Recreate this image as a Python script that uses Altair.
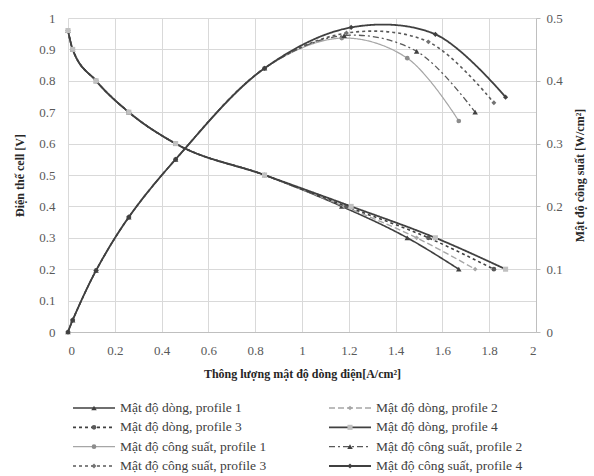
import altair as alt
import pandas as pd

# ---------------- data ----------------
I_p1 = [0, 0.02, 0.12, 0.26, 0.46, 0.84, 1.17, 1.45, 1.67]
I_p2 = [0, 0.02, 0.12, 0.26, 0.46, 0.84, 1.18, 1.49, 1.74]
I_p3 = [0, 0.02, 0.12, 0.26, 0.46, 0.84, 1.19, 1.54, 1.82]
I_p4 = [0, 0.02, 0.12, 0.26, 0.46, 0.84, 1.21, 1.57, 1.87]

V_p1 = [0.96, 0.90, 0.80, 0.70, 0.60, 0.50, 0.40, 0.30, 0.20]
V_p2 = [0.96, 0.90, 0.80, 0.70, 0.60, 0.50, 0.40, 0.30, 0.20]
V_p3 = [0.96, 0.90, 0.80, 0.70, 0.60, 0.50, 0.40, 0.30, 0.20]
V_p4 = [0.96, 0.90, 0.80, 0.70, 0.60, 0.50, 0.40, 0.30, 0.20]

P_p1 = [0, 0.019, 0.098, 0.183, 0.275, 0.42, 0.468, 0.436, 0.336]
P_p2 = [0, 0.019, 0.098, 0.183, 0.275, 0.42, 0.472, 0.447, 0.350]
P_p3 = [0, 0.019, 0.098, 0.183, 0.275, 0.42, 0.476, 0.462, 0.365]
P_p4 = [0, 0.019, 0.098, 0.183, 0.275, 0.42, 0.485, 0.474, 0.374]

x_ticks = [0, 0.2, 0.4, 0.6, 0.8, 1, 1.2, 1.4, 1.6, 1.8, 2]
yl_ticks = [0, 0.1, 0.2, 0.3, 0.4, 0.5, 0.6, 0.7, 0.8, 0.9, 1]
yr_ticks = [0, 0.1, 0.2, 0.3, 0.4, 0.5]

legend_labels = [
    "Mật độ dòng, profile 1", "Mật độ dòng, profile 2",
    "Mật độ dòng, profile 3", "Mật độ dòng, profile 4",
    "Mật độ công suất, profile 1", "Mật độ công suất, profile 2",
    "Mật độ công suất, profile 3", "Mật độ công suất, profile 4",
]
legend_row = [0, 0, 1, 1, 2, 2, 3, 3]
legend_col = [0, 1, 0, 1, 0, 1, 0, 1]

# ---------------- styles ----------------
FONT = "Liberation Serif"
styles = [
    dict(color="#404040", dash=[1, 0], width=1.6, shape="triangle-up", mcolor="#404040", msize=30),
    dict(color="#a6a6a6", dash=[6, 3], width=1.4, shape="diamond", mcolor="#a6a6a6", msize=22),
    dict(color="#404040", dash=[3, 3], width=1.6, shape="circle", mcolor="#595959", msize=22),
    dict(color="#404040", dash=[1, 0], width=1.8, shape="square", mcolor="#c0c0c0", msize=26),
    dict(color="#a6a6a6", dash=[1, 0], width=1.2, shape="circle", mcolor="#8c8c8c", msize=22),
    dict(color="#595959", dash=[6, 3, 2, 3], width=1.3, shape="triangle-up", mcolor="#404040", msize=30),
    dict(color="#595959", dash=[3, 3], width=1.6, shape="diamond", mcolor="#737373", msize=24),
    dict(color="#404040", dash=[1, 0], width=1.8, shape="diamond", mcolor="#404040", msize=26),
]

x_enc = alt.X("I:Q", scale=alt.Scale(domain=[0, 2], nice=False),
              axis=alt.Axis(values=x_ticks, format="~g", title="Thông lượng mật độ dòng điện[A/cm²]",
                            grid=True, ticks=False, labelPadding=12, titlePadding=11,
                            domainColor="#bfbfbf"))
yl_enc = alt.Y("v:Q", scale=alt.Scale(domain=[0, 1], nice=False),
               axis=alt.Axis(values=yl_ticks, format="~g", title="Điện thế cell [V]",
                             grid=True, ticks=False, domain=False, labelPadding=13, titlePadding=12,
                             orient="left"))
yr_enc = alt.Y("v:Q", scale=alt.Scale(domain=[0, 0.5], nice=False),
               axis=alt.Axis(values=yr_ticks, format="~g", title="Mật độ công suất [W/cm²]",
                             grid=False, ticks=True, tickSize=4, tickColor="#bfbfbf",
                             domainColor="#bfbfbf", labelPadding=6, titlePadding=12,
                             titleAngle=270, titleBaseline="top", orient="right"))

series = [
    (I_p1, V_p1), (I_p2, V_p2), (I_p3, V_p3), (I_p4, V_p4),
    (I_p1, P_p1), (I_p2, P_p2), (I_p3, P_p3), (I_p4, P_p4),
]

def series_layers(i):
    xs, ys = series[i]
    st = styles[i]
    df = pd.DataFrame({"I": xs, "v": ys})
    y_enc = yl_enc if i < 4 else yr_enc
    interp = "monotone" if i < 4 else "catmull-rom"
    base = alt.Chart(df)
    line = base.mark_line(color=st["color"], strokeDash=st["dash"], strokeWidth=st["width"],
                          interpolate=interp).encode(x=x_enc, y=y_enc)
    pts = base.mark_point(shape=st["shape"], filled=True, color=st["mcolor"], size=st["msize"],
                          opacity=1).encode(x=x_enc, y=y_enc)
    return [line, pts]

volt = alt.layer(*[l for i in range(4) for l in series_layers(i)])
power = alt.layer(*[l for i in range(4, 8) for l in series_layers(i)])
main = alt.layer(volt, power).resolve_scale(y="independent")

# ---------------- legend (drawn below the plot) ----------------
lx = alt.Scale(domain=[0, 1], range=[5, 261], nice=False, zero=False)
ly = alt.Scale(domain=[0, 3], range=[390, 448], nice=False, zero=False)
leg_layers = []
for k in range(8):
    st = styles[k]
    ldf = pd.DataFrame({"c": [legend_col[k]], "r": [legend_row[k]], "t": [legend_labels[k]]})
    b = alt.Chart(ldf)
    xe = alt.X("c:Q", scale=lx, axis=None)
    ye = alt.Y("r:Q", scale=ly, axis=None)
    leg_layers.append(b.mark_rule(color=st["color"], strokeDash=st["dash"], strokeWidth=st["width"],
                                  x2Offset=42).encode(x=xe, x2="c:Q", y=ye))
    leg_layers.append(b.mark_point(shape=st["shape"], filled=True, color=st["mcolor"],
                                   size=st["msize"], opacity=1, xOffset=21).encode(x=xe, y=ye))
    leg_layers.append(b.mark_text(align="left", baseline="middle", dx=47, font=FONT, fontSize=13.5,
                                  color="#404040").encode(x=xe, y=ye, text="t:N"))
legend = alt.layer(*leg_layers)

chart = alt.layer(main, legend).resolve_scale(x="independent", y="independent").properties(
    width=468, height=314,
    autosize=alt.AutoSizeParams(type="none"),
    padding={"left": 68, "top": 18, "right": 58, "bottom": 144},
    background="white",
).configure_view(stroke=None).configure_axis(
    labelFont=FONT, labelFontSize=13, labelColor="#595959",
    titleFont=FONT, titleFontSize=12, titleFontWeight="bold", titleColor="#262626",
    gridColor="#d9d9d9", gridWidth=1,
)

chart.save("out.html", embed_options={"renderer": "svg", "actions": False})
